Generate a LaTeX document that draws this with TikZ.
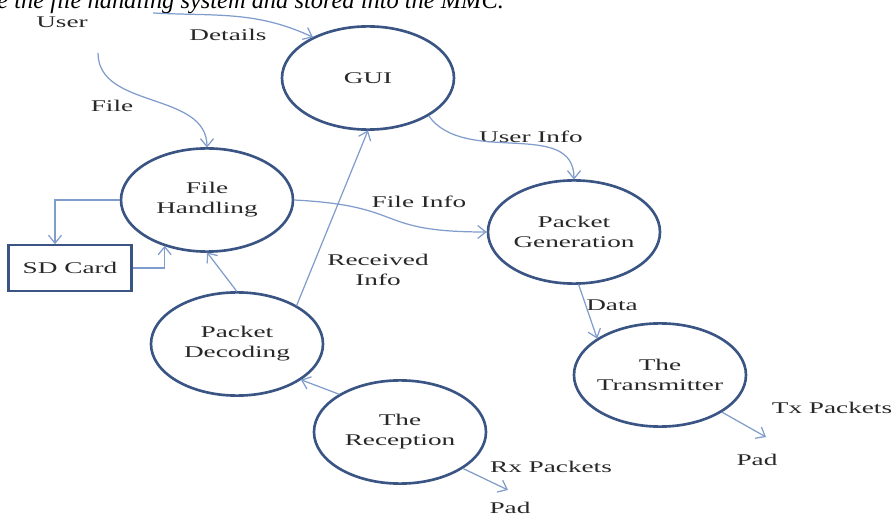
\documentclass[tikz,border=0pt]{standalone}
\usepackage{fontspec}
\setmainfont{Liberation Serif}
\usetikzlibrary{positioning,arrows.meta,calc}
\definecolor{ringclr}{RGB}{58,84,132}
\definecolor{flowclr}{RGB}{128,156,204}
\definecolor{txtclr}{RGB}{40,40,40}
\tikzset{
  proc/.style={circle,draw=ringclr,line width=1.5pt,minimum size=34.4mm,
               inner sep=0pt,yscale=0.6,align=center,text=txtclr},
  store/.style={rectangle,draw=ringclr,line width=1.6pt,minimum width=24.6mm,
                minimum height=15.3mm,yscale=0.6,text=txtclr},
  lbl/.style={yscale=0.6,inner sep=1pt,text=txtclr,align=center},
  flow/.style={-{Straight Barb[length=1.6mm,width=2.6mm]},draw=flowclr,line width=0.7pt},
}

\begin{document}
\begin{tikzpicture}[x=0.2mm, y=0.2mm, font=\fontsize{15.5}{19}\selectfont]
\useasboundingbox (0,0) rectangle (894,517);
\clip (0,0) rectangle (894,517);

\node[inner sep=0pt,anchor=base west,font=\fontsize{13.9}{16}\selectfont\itshape] (caption) at (-3,508) {e the file handling system and stored into the MMC.};

\node[proc] (gui) at (368,439) {GUI};
\node[proc] (fh)  at (207,317) {File\\Handling};
\node[proc] (pg)  at (574,285) {Packet\\Generation};
\node[proc] (pd)  at (237,173) {Packet\\Decoding};
\node[proc] (rec) at (400,85)  {The\\Reception};
\node[proc] (tx)  at (660,142) {The\\Transmitter};
\node[store] (sd) at (70,249)  {SD Card};

\node[lbl] (user)        at (62,495)  {User};
\node[lbl] (detailsLbl)  at (228,482) {Details};
\node[lbl] (fileLbl)     at (112,411) {File};
\node[lbl] (userInfoLbl) at (531,380) {User Info};
\node[lbl] (fileInfoLbl) at (419,315) {File Info};
\node[lbl] (recvLbl)     at (378,247) {Received\\Info};
\node[lbl] (dataLbl)     at (612,212) {Data};
\node[lbl] (txLbl)       at (832,109) {Tx Packets};
\node[lbl] (txPad)       at (757,57)  {Pad};
\node[lbl] (rxLbl)       at (551,50)  {Rx Packets};
\node[lbl] (rxPad)       at (510,9)   {Pad};

\coordinate (fileSrc) at (98,464);
\coordinate (detSrc)  at (153,504);
\coordinate (txEnd)   at (766,80);
\coordinate (rxEnd)   at (508,27);

\draw[flow] (fileSrc) to[out=-90,in=90] (fh.north);
\draw[flow] (detSrc) to[out=-3,in=155] (gui.129);
\draw[flow] (gui.-46) to[out=-55,in=90] (pg.north);
\draw[flow] (fh.east) to[out=-3,in=180,looseness=1.5] (pg.west);
\draw[flow] (pd.47) -- (gui.south);
\draw[flow] (pd.north) -- (fh.south);
\draw[flow] (rec.134) -- (pd.-43);
\draw[flow] (fh.west) -| ($(sd.north)+(-15,0)$);
\draw[flow] (sd.east) -| (fh.-119);
\draw[flow] (pg.-87) -- (tx.136);
\draw[flow] (tx.-45) -- (txEnd);
\draw[flow] (rec.-44) -- (rxEnd);
\end{tikzpicture}
\end{document}
